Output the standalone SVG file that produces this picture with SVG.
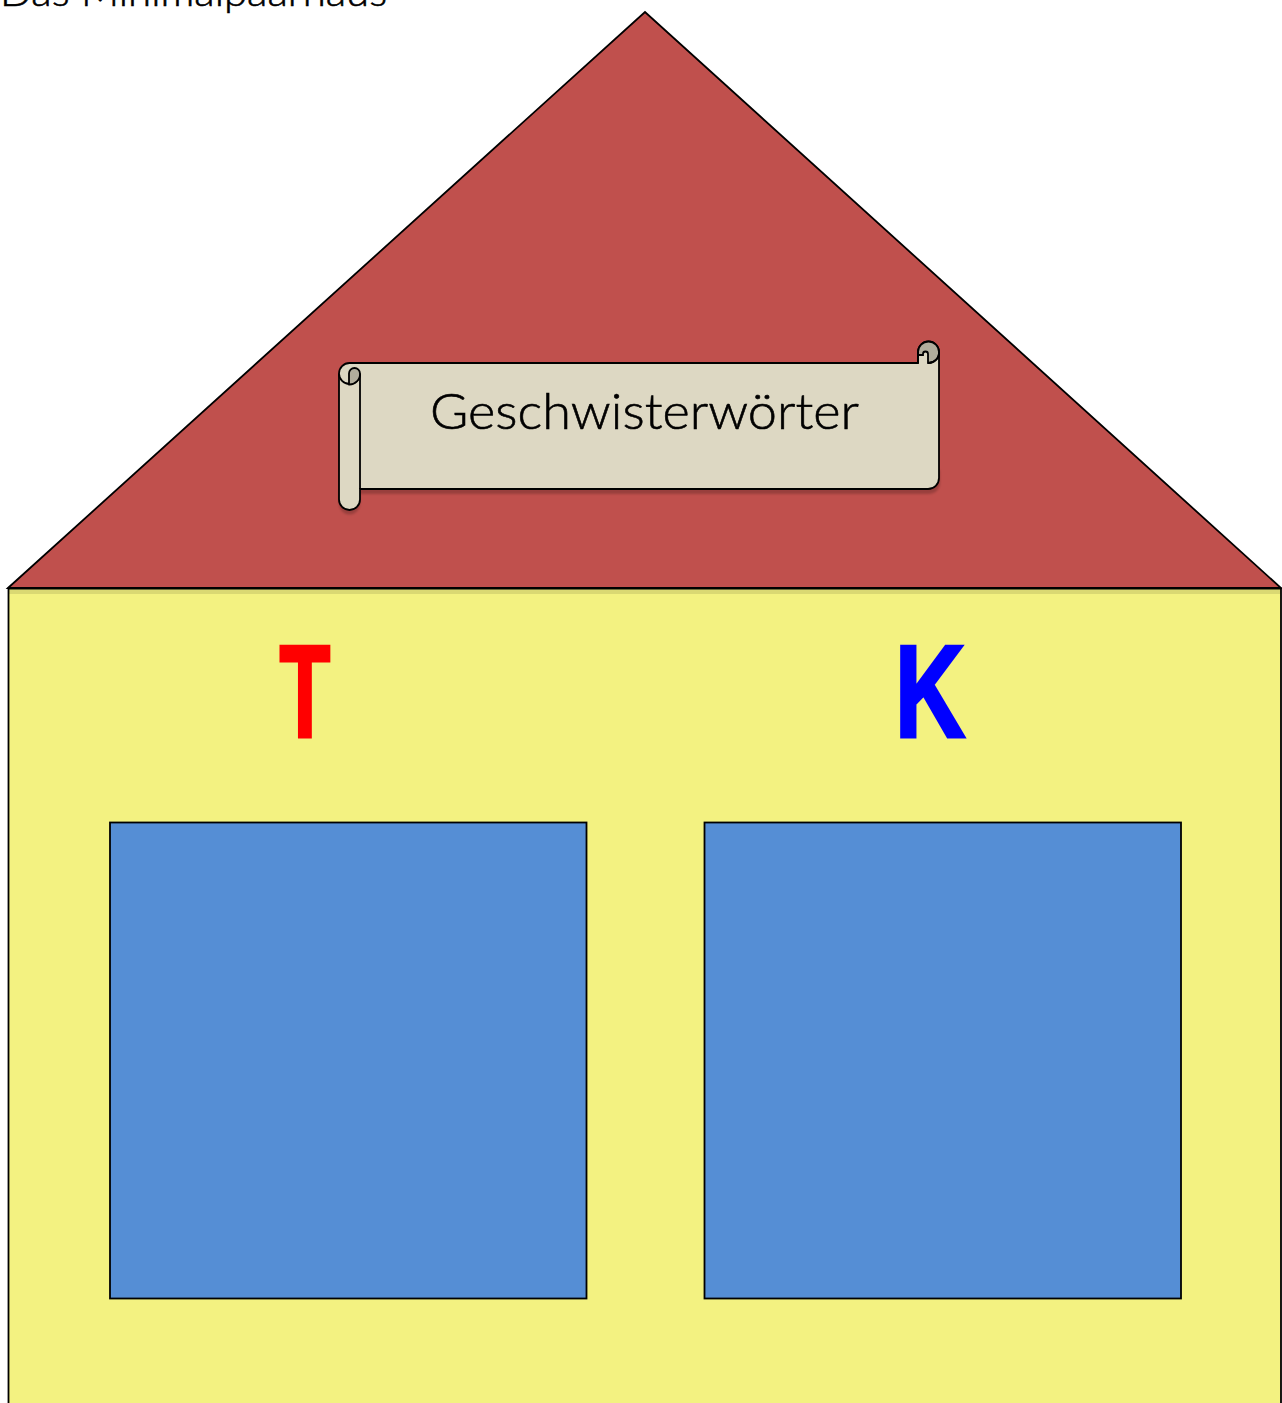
<svg xmlns="http://www.w3.org/2000/svg" width="1282" height="1403" viewBox="0 0 1282 1403">
<style>
.o{stroke:#000;stroke-width:1.8}
.g{font-family:"Lato","Open Sans",sans-serif;font-weight:300;stroke:#000;stroke-width:.6}
.h{font-family:"Liberation Sans",sans-serif;font-weight:bold;font-size:132px;stroke-width:3}
</style>
<defs><filter id="b" x="-5%" y="-5%" width="110%" height="115%"><feGaussianBlur stdDeviation=".8"/></filter></defs>
<rect width="1282" height="1403" fill="#fff"/>
<text class="g" x="0" y="6" font-size="39" textLength="387" lengthAdjust="spacingAndGlyphs">Das Minimalpaarhaus</text>
<g id="roof"><path class="o" d="M8 588L645 12L1281 588Z" fill="#c0504d"/></g>
<g id="body"><path d="M8.500 588.500H1281V1404H8.500Z" fill="#f3f281"/>
<rect x="9" y="589" width="1272" height="5" fill="#000" opacity=".1"/>
<path class="o" d="M8.500 1404V588.500H1281V1404" fill="none"/></g>
<g id="scroll">
<path d="M360 494H928A11 11 0 0 0 940 483V470H360ZM339 490V504A10.500 10.500 0 0 0 360 504V490Z" fill="#000" opacity=".2" filter="url(#b)"/>
<path class="o" d="M349.500 363H918V352A10.500 10.500 0 0 1 939 352V478A11 11 0 0 1 928 489H360V499.500A10.500 10.500 0 0 1 339 499.500V373.500A10.500 10.500 0 0 1 349.500 363Z" fill="#ddd8c3"/>
<path class="o" d="M918 352A10.500 10.500 0 0 1 939 352A10.500 10.500 0 0 1 928 363V354A2.500 2.500 0 0 0 923 354V355H918Z" fill="#b1ad9c"/>
<path class="o" d="M918 363V352M928 363A10.500 10.500 0 0 0 939 352" fill="none"/>
<path class="o" d="M339 373.500A10.500 10.500 0 0 0 360 373.500V489" fill="none"/>
<path class="o" d="M349 384.500A10.500 10.500 0 0 0 360 373.500A5.500 5.500 0 0 0 349 373.500Z" fill="#b1ad9c"/>
<text class="g" x="430" y="429" font-size="50" textLength="429" lengthAdjust="spacingAndGlyphs">Geschwisterwörter</text>
</g>
<g id="t"><text class="h" transform="translate(305 737) scale(.63 1)" fill="#f00" stroke="#f00" text-anchor="middle">T</text></g>
<g id="k"><text class="h" transform="translate(930 737) scale(.74 1)" fill="#00f" stroke="#00f" text-anchor="middle">K</text></g>
<g id="left"><rect class="o" x="110" y="822.500" width="476.500" height="476" fill="#558ed5"/></g>
<g id="right"><rect class="o" x="704.500" y="822.500" width="476.500" height="476" fill="#558ed5"/></g>
<g id="connectors"/>
</svg>
